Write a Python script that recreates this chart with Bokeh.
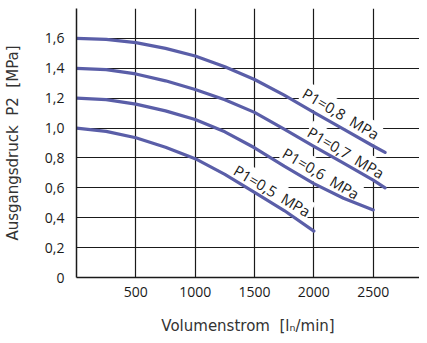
from bokeh.plotting import figure
from bokeh.models import FixedTicker, Range1d, ColumnDataSource
from bokeh.core.properties import value
from bokeh.embed import file_html
from bokeh.resources import INLINE
import math

# ---- data ----
x_08 = [0, 250, 500, 750, 1000, 1250, 1500, 1750, 2000, 2250, 2500, 2600]
y_08 = [1.600, 1.594, 1.572, 1.533, 1.482, 1.410, 1.325, 1.220, 1.105, 0.993, 0.880, 0.837]

x_07 = [0, 250, 500, 750, 1000, 1250, 1500, 1750, 2000, 2250, 2500, 2600]
y_07 = [1.400, 1.391, 1.362, 1.316, 1.258, 1.190, 1.105, 0.993, 0.878, 0.765, 0.652, 0.600]

x_06 = [0, 250, 500, 750, 1000, 1250, 1500, 1750, 2000, 2250, 2500]
y_06 = [1.200, 1.190, 1.160, 1.115, 1.057, 0.975, 0.868, 0.745, 0.628, 0.530, 0.452]

x_05 = [0, 250, 500, 750, 1000, 1250, 1500, 1750, 2000]
y_05 = [1.000, 0.978, 0.935, 0.872, 0.795, 0.690, 0.570, 0.448, 0.310]

NB = "\u00a0"
series_labels = ["P1=0,8" + NB * 2 + "MPa", "P1=0,7" + NB * 2 + "MPa",
                 "P1=0,6" + NB * 2 + "MPa", "P1=0,5" + NB * 2 + "MPa"]

y_ticks = [0, 0.2, 0.4, 0.6, 0.8, 1.0, 1.2, 1.4, 1.6]
y_tick_labels = ["0", "0,2", "0,4", "0,6", "0,8", "1,0", "1,2", "1,4", "1,6"]
x_ticks = [500, 1000, 1500, 2000, 2500]
x_tick_labels = ["500", "1000", "1500", "2000", "2500"]

# label anchor positions (annotation placement)
label_x = [2228, 2270, 2061, 1650]
label_y = [1.097, 0.837, 0.697, 0.581]
label_angle_deg = -30.5

LINE_COLOR = "#5a5ea8"
GRID_COLOR = "#1a1a1a"
TICK_FONT = "Open Sans"
TITLE_FONT = "DejaVu Sans"

p = figure(width=419, height=337, output_backend="svg", toolbar_location=None,
           x_range=Range1d(0, 2890), y_range=Range1d(0, 1.8),
           min_border_left=65, min_border_right=0, min_border_top=8, min_border_bottom=55)
p.outline_line_color = None
p.background_fill_color = "white"

# grid
p.xgrid.ticker = FixedTicker(ticks=x_ticks)
p.ygrid.ticker = FixedTicker(ticks=[0.2, 0.4, 0.6, 0.8, 1.0, 1.2, 1.4, 1.6, 1.8])
p.xgrid.grid_line_color = GRID_COLOR
p.ygrid.grid_line_color = GRID_COLOR
p.xgrid.grid_line_width = 1.2
p.ygrid.grid_line_width = 1.2

# axes
p.xaxis.ticker = FixedTicker(ticks=x_ticks)
p.yaxis.ticker = FixedTicker(ticks=y_ticks)
p.xaxis.major_label_overrides = {t: l for t, l in zip(x_ticks, x_tick_labels)}
p.yaxis.major_label_overrides = {t: l for t, l in zip(y_ticks, y_tick_labels)}
for ax in (p.xaxis, p.yaxis):
    ax.axis_line_color = GRID_COLOR
    ax.axis_line_width = 1.5
    ax.major_tick_line_color = None
    ax.minor_tick_line_color = None
    ax.major_label_text_font = TICK_FONT
    ax.major_label_text_font_size = "14px"
    ax.major_label_text_color = "#1a1a1a"
    ax.axis_label_text_font = TITLE_FONT
    ax.axis_label_text_font_size = "15px"
    ax.axis_label_text_font_style = "normal"
    ax.axis_label_text_color = "#333333"

p.xaxis.major_label_standoff = 3
p.yaxis.major_label_standoff = 6
p.xaxis.axis_label = "Volumenstrom" + NB * 2 + "[lₙ/min]"
p.yaxis.axis_label = "Ausgangsdruck" + NB * 2 + "P2" + NB * 2 + "[MPa]"
p.xaxis.axis_label_standoff = 17
p.yaxis.axis_label_standoff = 20

# labels with white knock-out background
src = ColumnDataSource(dict(x=label_x, y=label_y, text=series_labels))
p.text(x="x", y="y", text="text", source=src, angle=math.radians(label_angle_deg),
       text_align="center", text_baseline="middle", text_font=value(TICK_FONT),
       text_font_size="15px", text_color="#1a1a1a",
       background_fill_color="white", padding=1)

# curves
for xs, ys in ((x_08, y_08), (x_07, y_07), (x_06, y_06), (x_05, y_05)):
    p.line(xs, ys, line_color=LINE_COLOR, line_width=3.2, line_cap="round", line_join="round")

open("out.html", "w").write(file_html(p, INLINE))
